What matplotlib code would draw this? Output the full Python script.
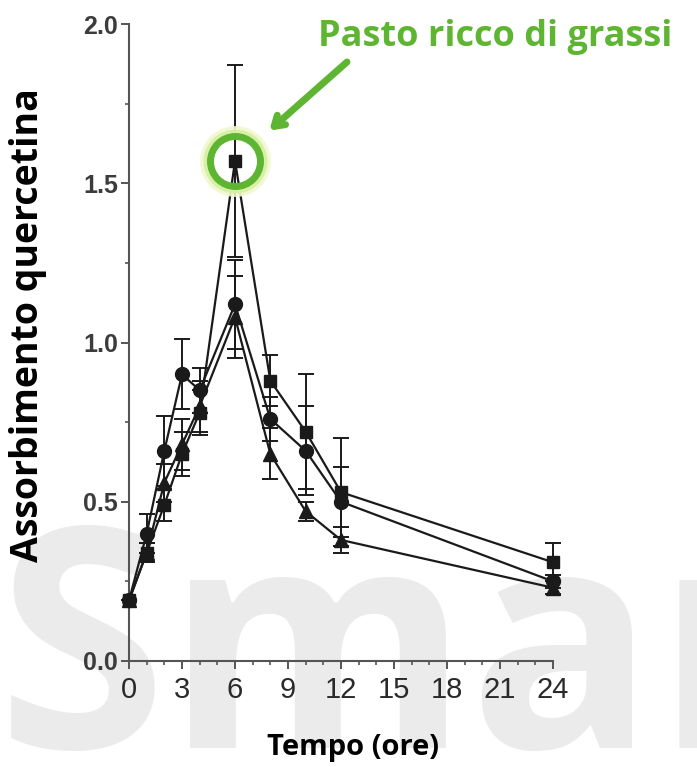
import matplotlib
matplotlib.use("Agg")
import matplotlib.pyplot as plt
from matplotlib import font_manager
from matplotlib.ticker import MultipleLocator

# ---------------- data ----------------
hours = [0, 1, 2, 3, 4, 6, 8, 10, 12, 24]

sq_mean = [0.19, 0.34, 0.49, 0.65, 0.78, 1.57, 0.88, 0.72, 0.53, 0.31]
sq_err = [0.00, 0.03, 0.05, 0.07, 0.07, 0.30, 0.08, 0.18, 0.17, 0.06]

ci_mean = [0.19, 0.40, 0.66, 0.90, 0.85, 1.12, 0.76, 0.66, 0.50, 0.25]
ci_err = [0.00, 0.06, 0.11, 0.11, 0.07, 0.14, 0.07, 0.14, 0.11, 0.02]

tr_mean = [0.19, 0.34, 0.56, 0.68, 0.80, 1.08, 0.65, 0.47, 0.38, 0.23]
tr_err = [0.00, 0.03, 0.06, 0.08, 0.08, 0.13, 0.08, 0.03, 0.04, 0.02]

x_ticks = [0, 3, 6, 9, 12, 15, 18, 21, 24]
y_ticks = [0.0, 0.5, 1.0, 1.5, 2.0]

highlight_index = 5  # peak of the high-fat meal curve

x_label = "Tempo (ore)"
y_label = "Assorbimento quercetina"
note_text = "Pasto ricco di grassi"
watermark = "Smar"

# ---------------- fonts ----------------
names = {f.name for f in font_manager.fontManager.ttflist}
narrow = "Liberation Sans Narrow" in names
tick_font = "Liberation Sans Narrow" if narrow else "Liberation Sans"
tick_size_x = 24 if narrow else 21
label_font = ["Open Sans", "DejaVu Sans"]

green = "#5db532"
axis_gray = "#555555"
ink = "#1a1a1a"

fig = plt.figure(figsize=(6.97, 7.67), dpi=100)
fig.patch.set_facecolor("white")

# watermark behind everything
fig.text(-0.005, 0.025, watermark, fontsize=222, family=label_font,
         weight="bold", color="#ebebeb", zorder=-5, ha="left", va="baseline")

ax = fig.add_axes([129 / 697, 1 - 661 / 767, (553 - 129) / 697, (661 - 24) / 767])
ax.set_facecolor("none")

series = [
    (tr_mean, tr_err, "^", 10),
    (ci_mean, ci_err, "o", 10),
    (sq_mean, sq_err, "s", 9),
]
for mean, err, mk, ms in series:
    ax.errorbar(hours, mean, yerr=err, fmt="-", marker=mk, ms=ms,
                color=ink, mfc=ink, mec=ink, lw=1.6, elinewidth=1.4,
                capsize=6, capthick=1.4, clip_on=False, zorder=3)

# highlighted point with glowing green ring
hx, hy = hours[highlight_index], sq_mean[highlight_index]
for ms_, mew_, col, a in [(43, 8, "#f0f9d0", 0.9), (40, 6, "#d6efa0", 0.9)]:
    ax.plot([hx], [hy], marker="o", ms=ms_, mfc="none", mec=col, mew=mew_,
            alpha=a, zorder=4, clip_on=False)
ax.plot([hx], [hy], marker="o", ms=36, mfc="none", mec=green, mew=5,
        zorder=5, clip_on=False)

ax.set_xlim(0, 24)
ax.set_ylim(0, 2.0)
ax.set_xticks(x_ticks)
ax.set_yticks(y_ticks)
ax.set_yticklabels([f"{v:.1f}" for v in y_ticks])
ax.xaxis.set_minor_locator(MultipleLocator(1))
ax.yaxis.set_minor_locator(MultipleLocator(0.25))

for s in ["top", "right"]:
    ax.spines[s].set_visible(False)
for s in ["left", "bottom"]:
    ax.spines[s].set_color(axis_gray)
    ax.spines[s].set_linewidth(1.5)

ax.tick_params(which="major", length=6, width=1.4, color=axis_gray)
ax.tick_params(which="minor", length=3, width=1.2, color=axis_gray)
ax.tick_params(axis="y", pad=2)
ax.tick_params(axis="x", pad=5)
for t in ax.get_xticklabels():
    t.set_fontfamily(tick_font)
    t.set_fontsize(tick_size_x)
    t.set_color("#2a2a2a")
for t in ax.get_yticklabels():
    t.set_fontfamily("Liberation Sans")
    t.set_fontsize(18)
    t.set_fontweight("bold")
    t.set_color("#3c3c3c")

ax.set_xlabel(x_label, fontsize=21, weight="bold", family=label_font,
              color="black")
ax.set_ylabel(y_label, fontsize=27, weight="bold", family=label_font,
              color="black")
ax.xaxis.set_label_coords((353 - 129) / 424, (661 - 733) / 637)
ax.yaxis.set_label_coords((47 - 129) / 424, (661 - 325) / 637)

# annotation text and arrow
ax.annotate("", xy=(hx, hy), xycoords="data",
            xytext=(347, 767 - 62), textcoords="figure pixels",
            arrowprops=dict(arrowstyle="->,head_length=0.7,head_width=0.45",
                            color=green, lw=5, shrinkA=0, shrinkB=33),
            zorder=6, annotation_clip=False)
fig.text(318 / 697, 1 - 46 / 767, note_text, fontsize=26, weight="bold",
         family=label_font, color=green, ha="left", va="baseline")

fig.savefig("out.png", dpi=100, facecolor="white")
